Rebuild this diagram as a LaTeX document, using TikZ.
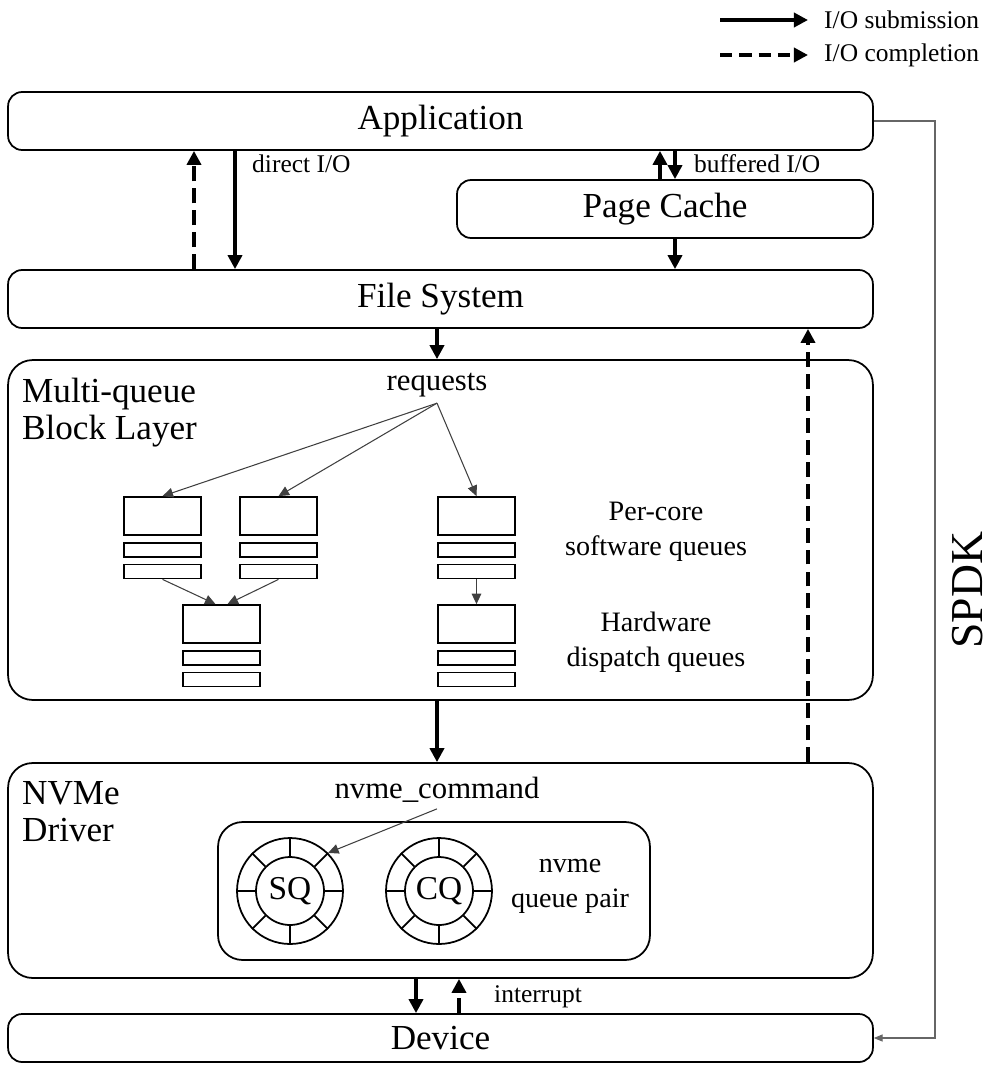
\documentclass[tikz,border=0pt]{standalone}
\usepackage{fontspec}
\setmainfont{Liberation Serif}
\usetikzlibrary{arrows.meta,positioning}

\tikzset{
  title/.style={font=\fontsize{20}{21}\selectfont},
  mid/.style={font=\fontsize{17.5}{20}\selectfont},
  note/.style={font=\fontsize{16}{20}\selectfont},
  small/.style={font=\fontsize{14.5}{16}\selectfont},
  layer/.style={draw, line width=1pt, rounded corners=8pt, minimum width=17.3cm, inner sep=0pt, title},
  bigbox/.style={layer, rounded corners=14pt},
  qbox/.style={draw, line width=1pt, minimum width=1.54cm, minimum height=0.76cm, inner sep=0pt},
  qbar/.style={qbox, minimum height=0.28cm},
  ringout/.style={circle, draw, line width=1pt, minimum size=2.12cm, inner sep=0pt},
  ringin/.style={circle, draw, line width=1pt, minimum size=1.36cm, inner sep=0pt, font=\fontsize{19}{21}\selectfont},
  sub/.style={line width=2.2pt, -{Triangle[length=8pt,width=8pt]}},
  cmpl/.style={sub, dash pattern=on 8.5pt off 4pt},
  req/.style={draw=black!75, line width=0.6pt, -{Triangle[length=6pt,width=5.5pt]}},
  spdk/.style={draw=black!60, line width=0.6pt, -{Triangle[length=5pt,width=4pt]}}
}

\begin{document}
\begin{tikzpicture}[x=0.02cm, y=-0.02cm]
\useasboundingbox (0,0) rectangle (996,1066);

% legend
\coordinate (l1) at (720,20);
\coordinate (l2) at (808,20);
\coordinate (l3) at (720,55);
\coordinate (l4) at (808,55);
\draw[sub] (l1) -- (l2);
\draw[cmpl, dash pattern=on 7pt off 4pt] (l3) -- (l4);
\node[small, anchor=west] (lsub) at (818,20) {I/O submission};
\node[small, anchor=west] (lcmp) at (818,55) {I/O completion};

% layers
\node[layer, minimum height=1.16cm] (app) at (440.5,121) {Application};
\node[layer, minimum width=8.32cm, minimum height=1.16cm] (cache) at (665,209) {Page Cache};
\node[layer, minimum height=1.16cm] (fs) at (440.5,299) {File System};
\node[bigbox, minimum height=6.8cm] (mq) at (440.5,530) {};
\node[bigbox, minimum height=4.3cm] (nvme) at (440.5,870.5) {};
\node[layer, minimum height=0.96cm] (dev) at (440.5,1038) {Device};

% block layer
\node[title, anchor=north west, align=left] (mqlab) at (16,372) {Multi-queue\\Block Layer};
\node[mid] (reqs) at (437,385) {requests};
\foreach \n/\x/\y in {sw1/162.5/516, sw2/278.5/516, sw3/476.5/516, hw1/221.5/624, hw2/476.5/624} {
  \node[qbox] (\n) at (\x,\y) {};
  \node[qbar, below=0.12cm of \n] (\n-a) {};
  \node[qbar, below=0.12cm of \n-a] (\n-b) {};
}
\draw[req] (reqs.south) -- (sw1.north);
\draw[req] (reqs.south) -- (sw2.north);
\draw[req] (reqs.south) -- (sw3.north);
\draw[req] (sw1-b.south) -- ([xshift=-0.12cm]hw1.north);
\draw[req] (sw2-b.south) -- ([xshift=0.12cm]hw1.north);
\draw[req] (sw3-b.south) -- (hw2.north);
\node[note, align=center] (swlab) at (656,532) {Per-core\\software queues};
\node[note, align=center] (hwlab) at (656,642) {Hardware\\dispatch queues};

% nvme driver
\node[title, anchor=north west, align=left] (nvlab) at (16,775) {NVMe\\Driver};
\node[mid] (cmd) at (437,790) {nvme\_command};
\node[bigbox, minimum width=8.64cm, minimum height=2.76cm] (pair) at (434,891) {};
\foreach \q/\x/\lab in {sq/290/SQ, cq/439/CQ} {
  \node[ringout] (\q) at (\x,891) {};
  \node[ringin] (\q-in) at (\x,891) {\lab};
  \foreach \a in {0,45,...,315}
    \draw[line width=1pt] (\q-in.\a) -- (\q.\a);
}
\draw[req] (cmd.south) -- (sq.45);
\node[note, align=center] (qplab) at (570,886) {nvme\\queue pair};

% I/O paths
\coordinate (c1) at (194,0);
\coordinate (c2) at (235,0);
\coordinate (c3) at (660,0);
\coordinate (c4) at (675,0);
\coordinate (c5) at (437,0);
\coordinate (c6) at (808,0);
\coordinate (c7) at (416,0);
\coordinate (c8) at (459,0);
\draw[cmpl] (c1 |- fs.north) -- (c1 |- app.south);
\draw[sub] (c2 |- app.south) -- (c2 |- fs.north);
\draw[cmpl] (c3 |- cache.north) -- (c3 |- app.south);
\draw[sub] (c4 |- app.south) -- (c4 |- cache.north);
\draw[sub] (c4 |- cache.south) -- (c4 |- fs.north);
\draw[sub] (c5 |- fs.south) -- (c5 |- mq.north);
\draw[cmpl] (c6 |- nvme.north) -- (c6 |- fs.south);
\draw[sub] (c5 |- mq.south) -- (c5 |- nvme.north);
\draw[sub] (c7 |- nvme.south) -- (c7 |- dev.north);
\draw[cmpl] (c8 |- dev.north) -- (c8 |- nvme.south);
\node[small, anchor=west] (dio) at (246,164) {direct I/O};
\node[small, anchor=west] (bio) at (688,164) {buffered I/O};
\node[small, anchor=west] (intr) at (488,997) {interrupt};

% SPDK bypass
\coordinate (sp) at (935,0);
\draw[spdk] (app.east) -- (app.east -| sp) -- (dev.east -| sp) -- (dev.east);
\node[rotate=90, font=\fontsize{26}{28}\selectfont] (spdklab) at (968,590) {SPDK};
\end{tikzpicture}
\end{document}
